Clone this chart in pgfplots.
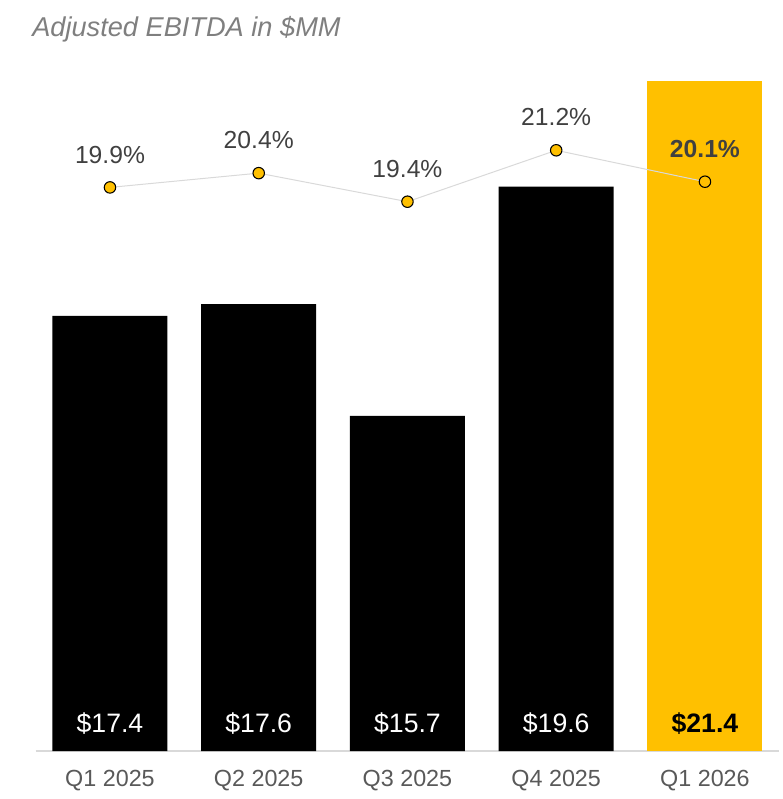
\documentclass[border=0pt]{standalone}
\usepackage{pgfplots}
\pgfplotsset{compat=1.18}
\usepackage{fontspec}
\setmainfont{Liberation Sans}
\definecolor{gold}{HTML}{FFC000}
\definecolor{titlegray}{HTML}{7F7F7F}
\definecolor{tickgray}{HTML}{595959}
\definecolor{labgray}{HTML}{404040}
\definecolor{linegray}{HTML}{D9D9D9}

\pgfplotsset{
  common/.style={
    at={(0,0)}, anchor=south west,
    scale only axis, width=557.8pt, height=518.25pt,
    xmin=-0.5, xmax=4.5,
  },
}

\begin{document}
\begin{tikzpicture}
\path (-26.7pt,-36pt) rectangle (559.8pt,563.25pt);

% bars (EBITDA, $MM)
\begin{axis}[
  common,
  ymin=10, ymax=21.752,
  axis y line=none,
  axis x line*=bottom,
  x axis line style={draw=linegray, line width=1.5pt, -},
  xtick={0,1,2,3,4},
  xticklabels={Q1 2025,Q2 2025,Q3 2025,Q4 2025,Q1 2026},
  major tick length=0pt,
  xticklabel style={font=\fontsize{17.5}{20}\selectfont, text=tickgray, yshift=-11pt},
  ytick=\empty,
]
\addplot[ybar, bar width=86.25pt, bar shift=0pt, fill=black, draw=none]
  coordinates {(0,17.4)(1,17.6)(2,15.7)(3,19.6)};
\addplot[ybar, bar width=86.25pt, bar shift=0pt, fill=gold, draw=none]
  coordinates {(4,21.4)};
\addplot[draw=none, mark=none, nodes near coords, point meta=explicit symbolic,
  nodes near coords style={anchor=base, yshift=14.25pt, inner sep=0pt,
    font=\fontsize{20}{22}\selectfont, text=white}]
  coordinates {(0,10)[\$17.4] (1,10)[\$17.6] (2,10)[\$15.7] (3,10)[\$19.6]};
\addplot[draw=none, mark=none, nodes near coords, point meta=explicit symbolic,
  nodes near coords style={anchor=base, yshift=14.25pt, inner sep=0pt,
    font=\bfseries\fontsize{20}{22}\selectfont, text=black}]
  coordinates {(4,10)[\$21.4]};
\end{axis}

% margin line (%)
\begin{axis}[
  common,
  ymin=0.167, ymax=24.362,
  hide axis,
]
\addplot[linegray, line width=0.75pt, mark=*,
  mark options={fill=gold, draw=black, line width=0.8pt}, mark size=4.3pt,
  nodes near coords, point meta=explicit symbolic,
  nodes near coords style={anchor=base, yshift=18.3pt, inner sep=0pt,
    font=\fontsize{18.5}{20}\selectfont, text=labgray}]
  coordinates {(0,19.9)[19.9\%] (1,20.4)[20.4\%] (2,19.4)[19.4\%] (3,21.2)[21.2\%] (4,20.1)[\textbf{20.1\%}]};
\end{axis}

\node[anchor=base west, inner sep=0pt, text=titlegray,
  font=\itshape\fontsize{20.4}{24}\selectfont] at (-2.7pt,536pt) {Adjusted EBITDA in \$MM};
\end{tikzpicture}
\end{document}
